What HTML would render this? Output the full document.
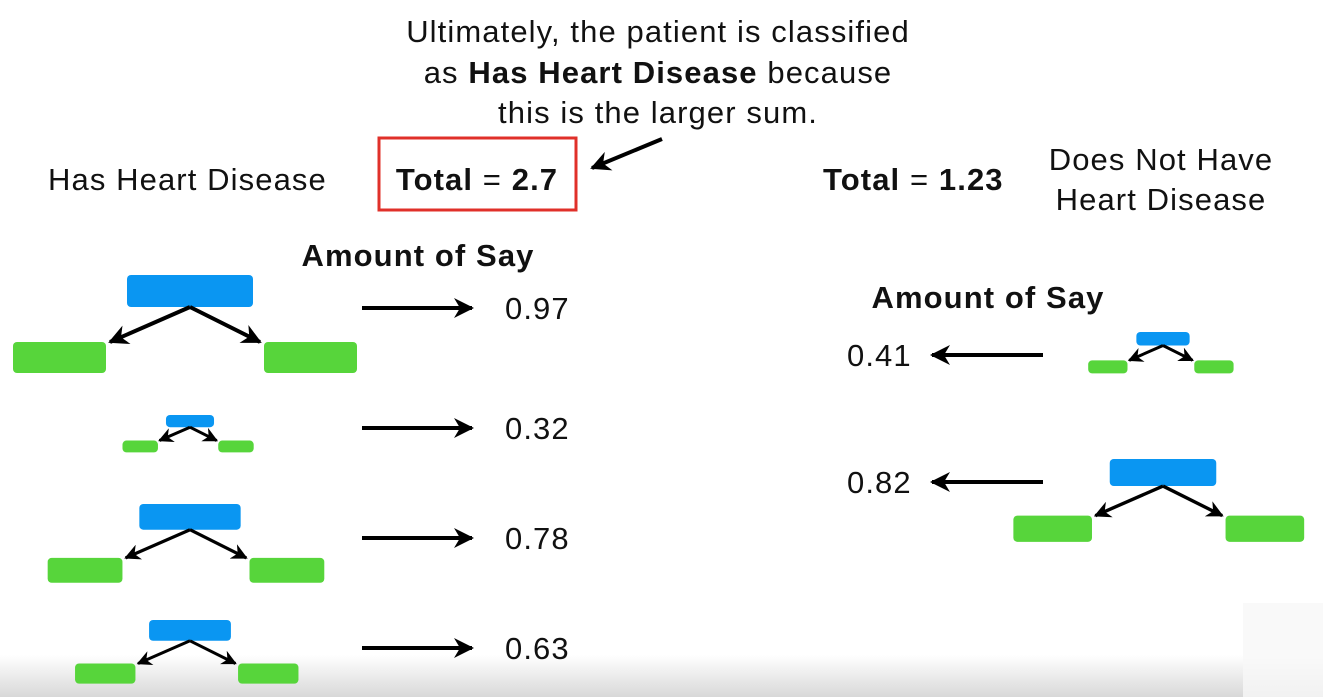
<!DOCTYPE html>
<html><head><meta charset="utf-8"><style>
html,body{margin:0;padding:0;background:#fff;}
svg{display:block;font-family:"Liberation Sans",Arial,sans-serif;}
.t{font-size:31px;letter-spacing:1.1px;}
</style></head><body>
<svg id="c" width="1323" height="697" viewBox="0 0 1323 697">
<defs>
<linearGradient id="bg" x1="0" y1="0" x2="0" y2="1"><stop offset="0" stop-color="#fff"/><stop offset="1" stop-color="#d8d8d8"/></linearGradient>
<marker id="ah" viewBox="0 0 10 10" refX="9" refY="5" markerWidth="5" markerHeight="5" orient="auto-start-reverse"><path d="M0,0 L10,5 L0,10 L3,5 z" fill="#000"/></marker>
</defs>
<rect x="0" y="655" width="1323" height="42" fill="url(#bg)"/>
<rect x="1243" y="603" width="80" height="94" fill="#f7f7f7" opacity="0.8"/>
<g class="t" fill="#111" text-anchor="middle">
<text x="658" y="42">Ultimately, the patient is classified</text>
<text x="658" y="83">as <tspan font-weight="bold">Has Heart Disease</tspan> because</text>
<text x="658" y="123">this is the larger sum.</text>
</g>
<line x1="662" y1="139" x2="592" y2="168" stroke="#000" stroke-width="4" marker-end="url(#ah)"/>
<text x="48" y="190" class="t" fill="#111">Has Heart Disease</text>
<rect x="379" y="138" width="197" height="72" fill="none" stroke="#e0302a" stroke-width="3"/>
<text x="477" y="190" class="t" text-anchor="middle" fill="#111"><tspan font-weight="bold">Total</tspan> = <tspan font-weight="bold">2.7</tspan></text>
<text x="823" y="190" class="t" fill="#111"><tspan font-weight="bold">Total</tspan> = <tspan font-weight="bold">1.23</tspan></text>
<g class="t" fill="#111" text-anchor="middle">
<text x="1161" y="170">Does Not Have</text>
<text x="1161" y="210">Heart Disease</text>
</g>
<text x="418" y="266" class="t" font-weight="bold" text-anchor="middle" fill="#111">Amount of Say</text>
<text x="988" y="308" class="t" font-weight="bold" text-anchor="middle" fill="#111">Amount of Say</text>
<g id="marks"></g>
</svg>
<script>
const leftSays = [0.97, 0.32, 0.78, 0.63];
const rightSays = [0.41, 0.82];
const leftRowsY = [308, 428, 538, 648];
const rightRowsY = [355, 482];
const leftStumpTop = [275, 415, 504, 620];
const rightStumpTop = [332, 459];
const NS = "http://www.w3.org/2000/svg";
const g = document.getElementById('marks');
function el(t, a){const e=document.createElementNS(NS,t);for(const k in a)e.setAttribute(k,a[k]);g.appendChild(e);return e;}
function sizeOf(v){return Math.max(v,0.37)/0.97;}
function stump(cx, top, v, name){
  const s = sizeOf(v);
  const bw=63*s, bh=32*s, go=84*s, gw=93*s, gt=67*s, gh=31*s;
  const b=el('rect',{x:cx-bw,y:top,width:2*bw,height:bh,rx:4,fill:'#0a96f2'});
  
  
  const l=el('rect',{x:cx-go-gw,y:top+gt,width:gw,height:gh,rx:4,fill:'#57d53b'});
  
  
  const r=el('rect',{x:cx+go-10*s,y:top+gt,width:gw,height:gh,rx:4,fill:'#57d53b'});
  
  
  const sw=Math.max(3,4*s);
  const a1=el('line',{x1:cx,y1:top+bh,x2:cx-go+4*s,y2:top+gt,stroke:'#000','stroke-width':sw,'marker-end':'url(#ah)'});
  
  
  const a2=el('line',{x1:cx,y1:top+bh,x2:cx+go-14*s,y2:top+gt,stroke:'#000','stroke-width':sw,'marker-end':'url(#ah)'});
  
  
}
leftSays.forEach((v,i)=>{
  stump(190, leftStumpTop[i], v, 'left-stump-'+(i+1));
  const ar=el('line',{x1:362,y1:leftRowsY[i],x2:472,y2:leftRowsY[i],stroke:'#000','stroke-width':4,'marker-end':'url(#ah)'});
  
  
  const t=el('text',{x:505,y:leftRowsY[i]+11,'class':'t',fill:'#111'});
  t.textContent=v.toFixed(2);
  
  
});
rightSays.forEach((v,i)=>{
  stump(1163, rightStumpTop[i], v, 'right-stump-'+(i+1));
  const ar=el('line',{x1:1043,y1:rightRowsY[i],x2:932,y2:rightRowsY[i],stroke:'#000','stroke-width':4,'marker-end':'url(#ah)'});
  
  
  const t=el('text',{x:847,y:rightRowsY[i]+11,'class':'t',fill:'#111'});
  t.textContent=v.toFixed(2);
  
  
});
</script>
</body></html>
